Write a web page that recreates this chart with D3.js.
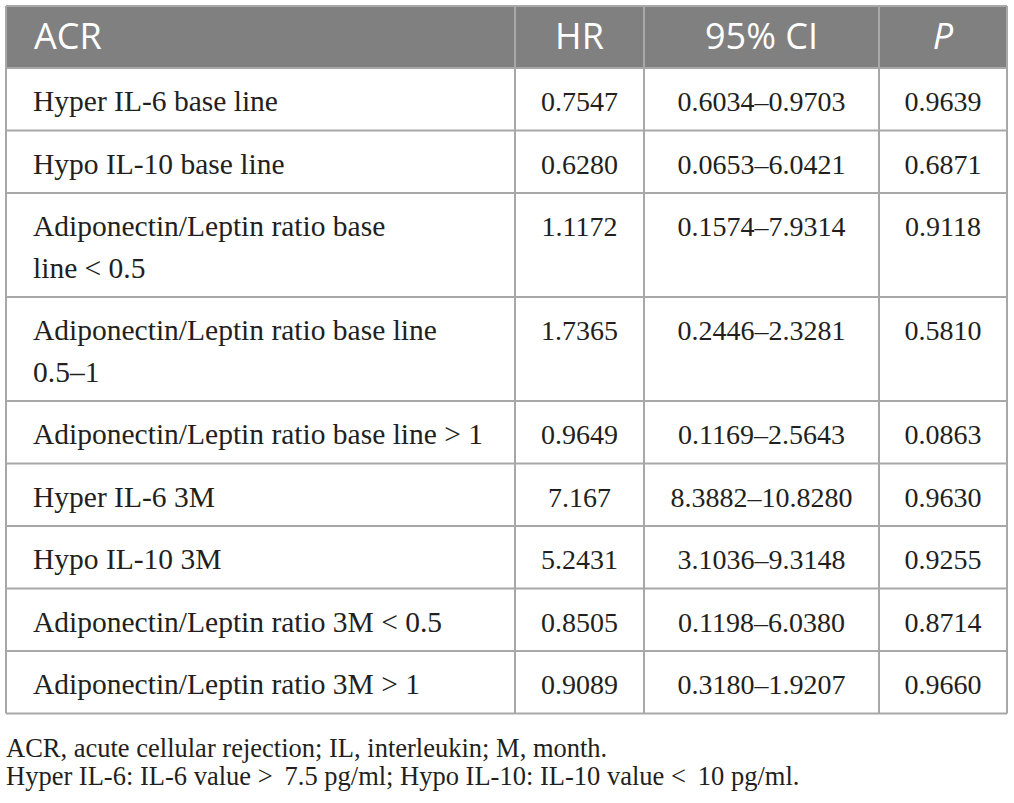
<!DOCTYPE html>
<html>
<head>
<meta charset="utf-8">
<script src="https://cdn.jsdelivr.net/npm/d3@7"></script>
<style>
  body { margin: 0; background: #fff; }
</style>
</head>
<body>
<script>
const headers = ["ACR", "HR", "95% CI", "P"];

const labels = [
	["Hyper IL-6 base line"],
	["Hypo IL-10 base line"],
	["Adiponectin/Leptin ratio base", "line < 0.5"],
	["Adiponectin/Leptin ratio base line", "0.5\u20131"],
	["Adiponectin/Leptin ratio base line > 1"],
	["Hyper IL-6 3M"],
	["Hypo IL-10 3M"],
	["Adiponectin/Leptin ratio 3M < 0.5"],
	["Adiponectin/Leptin ratio 3M > 1"]
];

const hrValues = ["0.7547", "0.6280", "1.1172", "1.7365", "0.9649", "7.167", "5.2431", "0.8505", "0.9089"];

const ciValues = ["0.6034\u20130.9703", "0.0653\u20136.0421", "0.1574\u20137.9314", "0.2446\u20132.3281",
	"0.1169\u20132.5643", "8.3882\u201310.8280", "3.1036\u20139.3148", "0.1198\u20136.0380", "0.3180\u20131.9207"];

const pValues = ["0.9639", "0.6871", "0.9118", "0.5810", "0.0863", "0.9630", "0.9255", "0.8714", "0.9660"];

const footnotes = [
	"ACR, acute cellular rejection; IL, interleukin; M, month.",
	"Hyper IL-6: IL-6 value >\u2009 7.5 pg/ml; Hypo IL-10: IL-10 value <\u2009 10 pg/ml."
];

function buildTable() {
	const width = 1014;
	const height = 803;
	const top = 6;
	const headerH = 62;
	const rowH = 62.5;
	const lineH = 41.5;
	const colEdges = [6, 515, 644, 879, 1007];
	const serif = "'Liberation Serif', 'Times New Roman', serif";
	const sans = "'Open Sans', 'Noto Sans', sans-serif";
	const textColor = "#231f20";
	const border = "#a8a8a8";

	const rows = labels.map((lines, i) => ({
		lines: lines,
		hr: hrValues[i],
		ci: ciValues[i],
		p: pValues[i]
	}));

	// cumulative row tops
	let y = top + headerH;
	rows.forEach(r => {
		r.y = y;
		r.h = rowH + (r.lines.length - 1) * lineH;
		y += r.h;
	});
	const bottom = y;

	const svg = d3.select("body")
		.append("svg")
		.attr("width", width)
		.attr("height", height);

	// header band
	svg.append("rect")
		.attr("x", colEdges[0])
		.attr("y", top)
		.attr("width", colEdges[4] - colEdges[0])
		.attr("height", headerH)
		.attr("fill", "#808080");

	const centers = colEdges.slice(1).map((e, i) => (e + colEdges[i]) / 2);

	svg.selectAll("text.head")
		.data(headers)
		.join("text")
		.attr("class", "head")
		.attr("x", (d, i) => i === 0 ? colEdges[0] + 28 : centers[i])
		.attr("y", top + 43)
		.attr("text-anchor", (d, i) => i === 0 ? "start" : "middle")
		.attr("font-family", sans)
		.attr("font-size", 36)
		.attr("font-style", d => d === "P" ? "italic" : "normal")
		.attr("fill", "#fff")
		.text(d => d);

	// horizontal lines: top, each row top, bottom
	const hLines = [top].concat(rows.map(r => r.y), [bottom]);
	svg.selectAll("line.row")
		.data(hLines)
		.join("line")
		.attr("class", "row")
		.attr("x1", colEdges[0])
		.attr("x2", colEdges[4])
		.attr("y1", d => d)
		.attr("y2", d => d)
		.attr("stroke", border)
		.attr("stroke-width", 2);

	// vertical lines
	svg.selectAll("line.col")
		.data(colEdges)
		.join("line")
		.attr("class", "col")
		.attr("x1", d => d)
		.attr("x2", d => d)
		.attr("y1", top)
		.attr("y2", bottom)
		.attr("stroke", border)
		.attr("stroke-width", 2);

	const rowG = svg.selectAll("g.r")
		.data(rows)
		.join("g")
		.attr("class", "r")
		.attr("transform", d => `translate(0,${d.y})`);

	rowG.each(function(d) {
		const g = d3.select(this);
		d.lines.forEach((line, k) => {
			g.append("text")
				.attr("x", colEdges[0] + 27)
				.attr("y", 43 + k * lineH)
				.attr("font-family", serif)
				.attr("font-size", 29.5)
				.attr("fill", textColor)
				.text(line);
		});
		[d.hr, d.ci, d.p].forEach((v, k) => {
			g.append("text")
				.attr("x", centers[k + 1])
				.attr("y", 43)
				.attr("text-anchor", "middle")
				.attr("font-family", serif)
				.attr("font-size", 28)
				.attr("fill", textColor)
				.text(v);
		});
	});

	svg.selectAll("text.note")
		.data(footnotes)
		.join("text")
		.attr("class", "note")
		.attr("x", 6)
		.attr("y", (d, i) => bottom + 43 + i * 28)
		.attr("font-family", serif)
		.attr("font-size", 26.5)
		.attr("fill", textColor)
		.text(d => d);
}

buildTable();
</script>
</body>
</html>
